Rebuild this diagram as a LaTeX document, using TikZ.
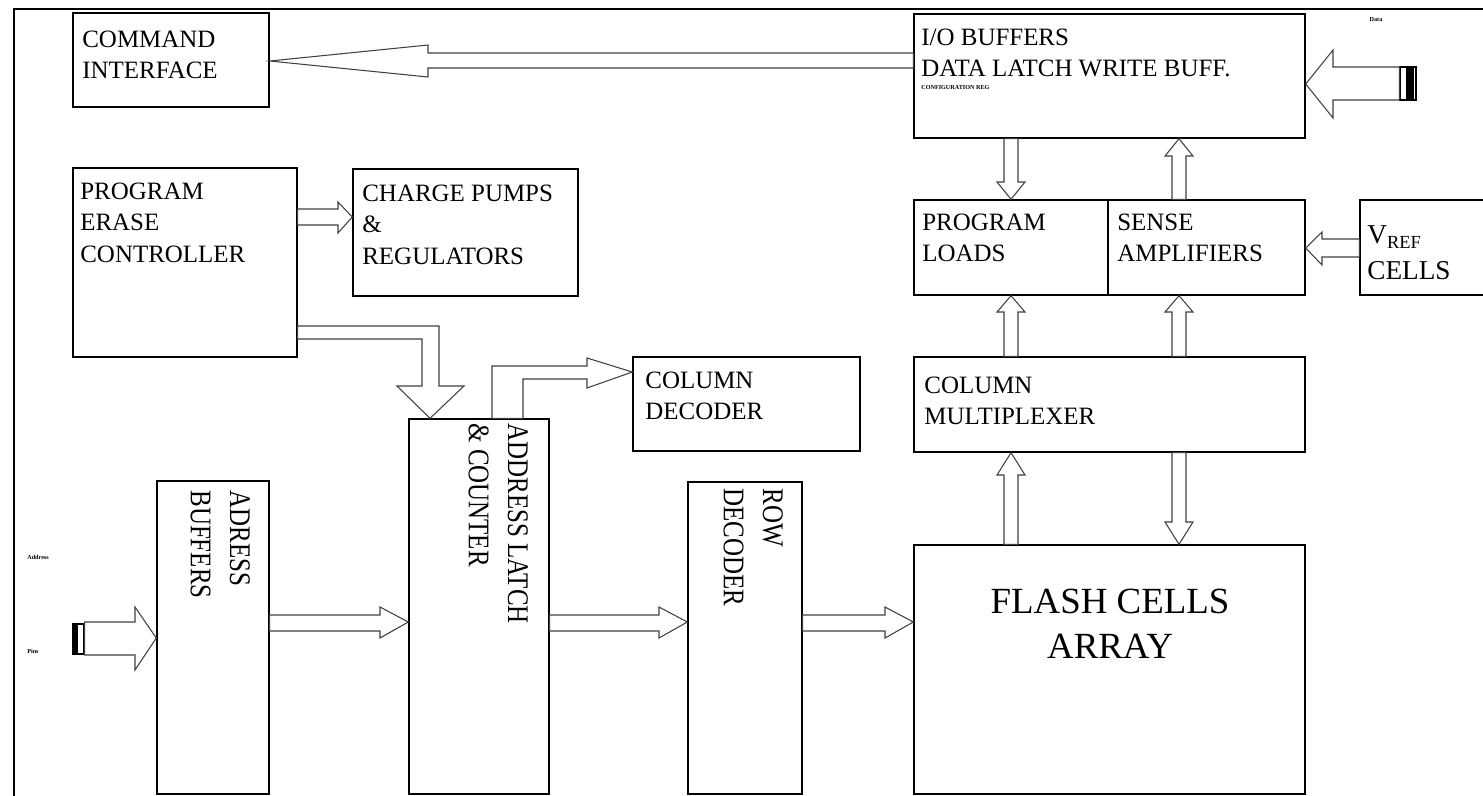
\documentclass[tikz,border=0pt]{standalone}
\usepackage{fontspec}
\usepackage{graphicx}
\setmainfont{Liberation Serif}
\usetikzlibrary{fit,calc}
\newcommand\mlines[1]{\begin{tabular}[t]{@{}l@{}}#1\end{tabular}}
\newcommand\vlines[1]{\scalebox{1}[1.2]{\begin{tabular}[t]{@{}l@{}}#1\end{tabular}}}
\begin{document}
\begin{tikzpicture}[x=0.02cm,y=-0.02cm,
 box/.style={draw=black, line width=0.8pt, inner sep=0pt},
 txt/.style={anchor=base west, inner sep=0pt, font=\fontsize{14.2}{18}\selectfont},
 vtxt/.style={anchor=base west, inner sep=0pt, rotate=-90, font=\fontsize{14.2}{18.6}\selectfont},
 barrow/.style={draw=black!75, fill=white, line width=0.6pt, line join=miter},
 tinytxt/.style={inner sep=0pt, font=\fontsize{3.5}{4}\selectfont\bfseries},
 conn/.style={draw=black, line width=0.6pt, inner sep=0pt}]
\useasboundingbox (0,0) rectangle (1483,795);
\begin{scope}
\clip (0,0) rectangle (1483,795);
\draw[line width=1.1pt] (14,800) -- (14,9) -- (1490,9);

% boxes
\node[box, fit={(73,13) (269,107)}] (cmd) {};
\node[box, fit={(914,14) (1305,138)}] (io) {};
\node[box, fit={(73,168) (297,357)}] (pec) {};
\node[box, fit={(353,169) (578,296)}] (cp) {};
\node[box, fit={(633,357) (860,451)}] (coldec) {};
\node[box, fit={(157,481) (269,794)}] (adrb) {};
\node[box, fit={(409,419) (549,794)}] (latch) {};
\node[box, fit={(688,482) (802,794)}] (row) {};
\node[box, fit={(914,200) (1108,295)}] (pl) {};
\node[box, fit={(1108,200) (1305,295)}] (sa) {};
\node[box, fit={(1360,200) (1500,295)}] (vref) {};
\node[box, fit={(914,357) (1305,452)}] (colmux) {};
\node[box, fit={(914,545) (1305,794)}] (flash) {};

% texts
\node[txt] (tcmd) at (82,47) {\mlines{COMMAND\\INTERFACE}};
\node[txt] (tio) at (921,45) {\mlines{I/O BUFFERS\\DATA LATCH WRITE BUFF.}};
\node[tinytxt, anchor=base west] (tcfg) at (921,89) {CONFIGURATION REG};
\node[txt] (tpec) at (80,199) {\mlines{PROGRAM\\ERASE\\CONTROLLER}};
\node[txt] (tcp) at (362,201) {\mlines{CHARGE PUMPS\\\&\\REGULATORS}};
\node[txt] (tcoldec) at (645,388) {\mlines{COLUMN\\DECODER}};
\node[txt] (tpl) at (922,230) {\mlines{PROGRAM\\LOADS}};
\node[txt] (tsa) at (1117,230) {\mlines{SENSE\\AMPLIFIERS}};
\node[txt, font=\fontsize{15.5}{21}\selectfont] (tvref) at (1367,243) {\mlines{V\raisebox{-0.45ex}{\fontsize{10.5}{10}\selectfont REF}\\CELLS}};
\node[txt] (tcolmux) at (924,393) {\mlines{COLUMN\\MULTIPLEXER}};
\node[anchor=base, inner sep=0pt, font=\fontsize{21}{26}\selectfont] (tflash) at (1110,613)
  {\begin{tabular}[t]{@{}c@{}}FLASH CELLS\\ARRAY\end{tabular}};
\node[vtxt] (tadrb) at (230,490) {\vlines{ADRESS\\BUFFERS}};
\node[vtxt] (tlatch) at (508,423) {\vlines{ADDRESS LATCH\\\& COUNTER}};
\node[vtxt] (trow) at (763,488) {\vlines{ROW\\DECODER}};

\node[tinytxt] (tdata) at (1376,20) {Data};
\node[tinytxt, anchor=west] (taddr) at (27,557) {Address};
\node[tinytxt, anchor=west] (tpins) at (27,651) {Pins};

% connectors (external pins)
\node[conn, fit={(1400,67) (1416,100)}] (dataconn) {};
\fill (1406,67) rectangle (1414,100);
\node[conn, fit={(73,624) (84,654)}] (pinconn) {};
\fill (73,624) rectangle (78,654);

% block arrows
\draw[barrow] (io.west |- 0,53) -- (428,53) -- (428,45) -- (cmd.east |- 0,61) -- (428,77) -- (428,68) -- (io.west |- 0,68) -- cycle;
\draw[barrow] (dataconn.west |- 0,67) -- (1333,67) -- (1333,50) -- (io.east |- 0,84) -- (1333,118) -- (1333,100) -- (dataconn.west |- 0,100) -- cycle;
\draw[barrow] (pec.east |- 0,209) -- (338,209) -- (338,202) -- (cp.west |- 0,217) -- (338,233) -- (338,225) -- (pec.east |- 0,225) -- cycle;
\draw[barrow] (pec.east |- 0,326) -- (439,326) -- (439,386) -- (464,386) -- (430,0 |- latch.north) -- (397,386) -- (422,386) -- (422,339) -- (pec.east |- 0,339) -- cycle;
\draw[barrow] (492,0 |- latch.north) -- (492,366) -- (587,366) -- (587,358) -- (coldec.west |- 0,372) -- (587,388) -- (587,379) -- (523,379) -- (523,0 |- latch.north) -- cycle;
% vertical arrows right column
\draw[barrow] (1004,0 |- io.south) -- (1004,182) -- (997,182) -- (1011,0 |- pl.north) -- (1025,182) -- (1018,182) -- (1018,0 |- io.south) -- cycle;
\draw[barrow] (1172,0 |- sa.north) -- (1172,156) -- (1165,156) -- (1179,0 |- io.south) -- (1193,156) -- (1186,156) -- (1186,0 |- sa.north) -- cycle;
\draw[barrow] (1004,0 |- colmux.north) -- (1004,312) -- (997,312) -- (1011,0 |- pl.south) -- (1025,312) -- (1018,312) -- (1018,0 |- colmux.north) -- cycle;
\draw[barrow] (1172,0 |- colmux.north) -- (1172,312) -- (1165,312) -- (1179,0 |- sa.south) -- (1193,312) -- (1186,312) -- (1186,0 |- colmux.north) -- cycle;
\draw[barrow] (1004,0 |- flash.north) -- (1004,475) -- (997,475) -- (1011,0 |- colmux.south) -- (1025,475) -- (1018,475) -- (1018,0 |- flash.north) -- cycle;
\draw[barrow] (1172,0 |- colmux.south) -- (1172,522) -- (1165,522) -- (1179,0 |- flash.north) -- (1193,522) -- (1186,522) -- (1186,0 |- colmux.south) -- cycle;
\draw[barrow] (vref.west |- 0,239) -- (1322,239) -- (1322,232) -- (sa.east |- 0,248) -- (1322,265) -- (1322,257) -- (vref.west |- 0,257) -- cycle;
% horizontal bottom arrows
\draw[barrow] (pinconn.east |- 0,622) -- (135,622) -- (135,607) -- (adrb.west |- 0,638) -- (135,670) -- (135,655) -- (pinconn.east |- 0,655) -- cycle;
\draw[barrow] (adrb.east |- 0,615) -- (380,615) -- (380,607) -- (latch.west |- 0,622) -- (380,638) -- (380,631) -- (adrb.east |- 0,631) -- cycle;
\draw[barrow] (latch.east |- 0,615) -- (659,615) -- (659,607) -- (row.west |- 0,622) -- (659,638) -- (659,631) -- (latch.east |- 0,631) -- cycle;
\draw[barrow] (row.east |- 0,615) -- (885,615) -- (885,607) -- (flash.west |- 0,622) -- (885,638) -- (885,631) -- (row.east |- 0,631) -- cycle;
\end{scope}
\end{tikzpicture}
\end{document}
